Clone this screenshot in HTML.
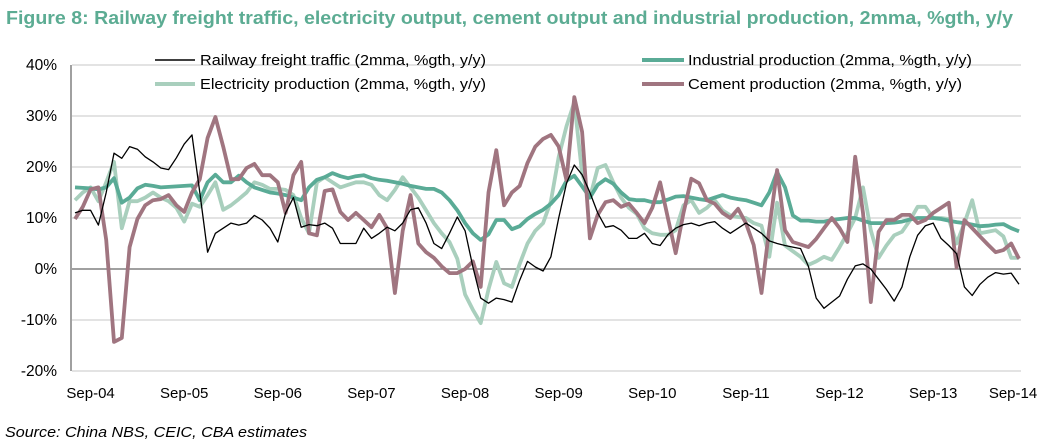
<!DOCTYPE html>
<html><head><meta charset="utf-8"><style>
body{margin:0;background:#fff;font-family:"Liberation Sans",sans-serif;}
svg text{font-family:"Liberation Sans",sans-serif;}
</style></head><body>
<svg id="chart" width="1050" height="443" xmlns="http://www.w3.org/2000/svg">
<text x="6" y="24" font-size="18.5" font-weight="bold" fill="#5cac93" textLength="1007" lengthAdjust="spacingAndGlyphs">Figure 8: Railway freight traffic, electricity output, cement output and industrial production, 2mma, %gth, y/y</text>
<g id="grid"></g>
<g id="yticks"></g>
<g id="xticks"></g>
<g id="series"></g>
<g font-size="15" fill="#000">
<g><line x1="155" y1="60" x2="195" y2="60" stroke="#000" stroke-width="1.5"/><text x="200" y="65" textLength="286" lengthAdjust="spacingAndGlyphs">Railway freight traffic (2mma, %gth, y/y)</text></g>
<g><line x1="155" y1="84" x2="195" y2="84" stroke="#a9cfbd" stroke-width="4"/><text x="200" y="89" textLength="286" lengthAdjust="spacingAndGlyphs">Electricity production (2mma, %gth, y/y)</text></g>
<g><line x1="642" y1="60" x2="684" y2="60" stroke="#5aab96" stroke-width="4"/><text x="688" y="65" textLength="284" lengthAdjust="spacingAndGlyphs">Industrial production (2mma, %gth, y/y)</text></g>
<g><line x1="642" y1="84" x2="684" y2="84" stroke="#a07580" stroke-width="4"/><text x="688" y="89" textLength="274" lengthAdjust="spacingAndGlyphs">Cement production (2mma, %gth, y/y)</text></g>
</g>
<text x="5" y="437" font-size="14.5" font-style="italic" textLength="302" lengthAdjust="spacingAndGlyphs">Source: China NBS, CEIC, CBA estimates</text>
</svg>
<script>
const yTicks=[40,30,20,10,0,-10,-20];
const xLabels=["Sep-04","Sep-05","Sep-06","Sep-07","Sep-08","Sep-09","Sep-10","Sep-11","Sep-12","Sep-13","Sep-14"];
const railway=[11,11.5,11.5,8.6,15,22.7,21.7,24,23.5,22,21,19.8,19.5,21.8,24.5,26.3,15,3.3,7,8,9,8.6,9,10.5,9.6,8,5.3,11,14,8.2,8.7,8.5,9,8,5,5,5,8,6,7,8.2,7.5,9,11.6,12,9,5,4,7,10.2,7.5,0.4,-5.7,-6.7,-5.7,-6,-6.5,-2.2,1.5,0.4,-0.4,2.4,10,16.8,20.4,18.5,15,11,8.2,8.5,7.6,6,6,7,5,4.6,6.7,8,8.7,9,8.5,9,9.3,8,7,8,9,8,7,5.5,5,4.6,4.3,4,0.5,-5.7,-7.7,-6.5,-5.3,-2,0.6,1,0,-2,-4,-6.3,-3.5,2.4,6.6,8.5,9,6,4.6,3,-3.5,-5.2,-3,-1.6,-0.7,-1,-0.8,-3];
const industrial=[16,15.9,15.8,15.6,16,17.8,13,14,15.8,16.5,16.3,16,16.1,16.2,16.3,16.4,13.5,17,18.5,17,17,18.3,17,16,15.5,15,14.8,14.5,14,13.5,16,17.5,18,18.8,18.2,17.8,18.2,18.4,17.8,17.5,17.3,17,16.7,16.3,16,15.7,15.7,15,13.5,11.5,9,7,5.7,6.8,9.6,9.6,7.8,8.4,9.8,10.8,11.6,12.8,14.5,17.3,18.3,16.2,14,16.5,17.6,16.7,15,13.7,13.5,13.5,13.1,13.1,13.6,14.2,14.3,14,13.7,13.5,14,14.5,14,13.7,13.5,13,12.5,15,19,16,10.5,9.5,9.5,9.3,9.3,9.6,9.8,10,10,9.5,9,9,9,9.1,9.3,9.7,10,10,10,9.8,9.5,9.2,9,8.7,8.4,8.5,8.7,8.8,8,7.4];
const electricity=[13.5,15,16,13.3,17,21,8,13.3,13.3,14,15,14,13.3,12,9.3,12.8,12.2,14.5,17,11.6,12.5,13.7,15,17,16.5,15.7,15.7,15.5,14.5,10,7,17,18,17,16,16.5,17,17,16.5,14.5,13.5,15.5,18,16,14,11.5,9,7,5.3,2,-5,-8,-10.6,-4,1.4,-2.8,-3.5,1,5,7.5,9,13.3,22,28,32.7,18.7,14,19.8,20.4,17,14,12,10.8,8,7,6.7,6.7,7.6,12.5,13.5,11,12,13.5,11.5,10.5,10.2,10,9,8.5,2.4,13,4.6,3.5,2.4,0.8,1.5,2.4,1.8,4.3,7,10,16,7.6,2.2,4.6,6.6,7.3,9.5,12.2,12.2,10,10,9.8,5,9,13.5,7,7.3,7.6,6.4,2.2,2.2];
const cement=[9.8,12.2,15.6,16,5.7,-14.3,-13.5,4.3,9.8,12.5,13.5,13.7,14.5,12.5,11.2,15,17.6,25.7,29.8,24,17.6,17.6,19.8,20.6,18.4,18.4,17,11,18.4,21,7,6.6,15.3,15.6,11.2,9.6,11,9.6,8.2,10.6,8,-4.7,7.5,14.5,5,3.3,2.2,0.5,-0.8,-0.8,0,1.5,-3.5,15,23.3,12.5,15,16.3,20.8,24,25.5,26.3,24,17.4,33.7,26.9,6,10.6,13.1,13.5,12.2,12.8,11,9,12,17,10,3.1,11,17.7,16.8,13.5,12.8,11,10,11.8,9,4.7,-4.7,8,19.4,7.6,5.3,4.8,4.3,5.9,8,10,8,5.3,22,11,-6.5,7.3,9.6,9.6,10.6,10.6,9,9.6,11,12,13,0.3,9.6,8,6.4,4.8,3.3,3.7,5,2];

const NS="http://www.w3.org/2000/svg";
const X0=72,X1=1021,Y40=65,Y_20=371;
const nPts=railway.length;
function xScale(i){return 75+i*(1019-75)/(nPts-1);}
function yScale(v){return Y40+(40-v)*(Y_20-Y40)/60;}
function mk(tag,attrs,parent){const e=document.createElementNS(NS,tag);for(const k in attrs)e.setAttribute(k,attrs[k]);parent.appendChild(e);return e;}
const grid=document.getElementById('grid'),yt=document.getElementById('yticks'),xt=document.getElementById('xticks'),ser=document.getElementById('series');
yTicks.forEach(v=>{
  const y=yScale(v);
  const l=mk('line',{x1:X0,x2:X1,y1:y,y2:y,stroke:v===0?'#808080':'#e3e3e3','stroke-width':v===0?1.5:2},grid);
  
  
  const t=mk('text',{x:57,y:y+5,'text-anchor':'end','font-size':15.5},yt);
  t.textContent=v+'%';
  
  
});
const ax=mk('line',{x1:71,x2:71,y1:Y40,y2:Y_20,stroke:'#808080','stroke-width':1.5},grid);


xLabels.forEach((s,k)=>{
  const i=2+k*12;
  const x=Math.min(xScale(i),1013);
  const t=mk('text',{x:x,y:398,'text-anchor':'middle','font-size':15},xt);
  t.textContent=s;
  
  
});
function line(arr,color,w,name){
  const d=arr.map((v,i)=>(i?'L':'M')+xScale(i).toFixed(1)+' '+yScale(v).toFixed(1)).join(' ');
  const p=mk('path',{d:d,fill:'none',stroke:color,'stroke-width':w,'stroke-linejoin':'round'},ser);
  
  
}
line(electricity,'#a9cfbd',3.8,'electricity-line');
line(industrial,'#5aab96',3.8,'industrial-line');
line(cement,'#a07580',3.8,'cement-line');
line(railway,'#000',1.3,'railway-line');
</script>
</body></html>
